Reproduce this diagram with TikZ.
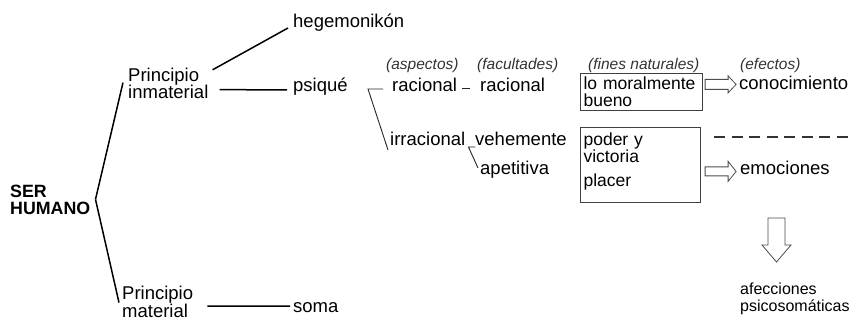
\documentclass[tikz,border=0pt]{standalone}
\usepackage{fontspec}
\setmainfont{Liberation Sans}
\usetikzlibrary{calc}

\tikzset{
  txt/.style={inner sep=0pt, anchor=base west, align=left, font=\fontsize{18.5}{17.6}\selectfont},
  lbl/.style={txt, font=\fontsize{15.5}{16}\selectfont\itshape, text=black!80},
  finbox/.style={draw=black!75, line width=1.1pt, anchor=north west, inner xsep=3pt, align=left, font=\fontsize{17.5}{17}\selectfont},
  tree/.style={line width=1.5pt},
  twig/.style={line width=0.9pt, draw=black!85},
  hollow/.style={draw=black!70, line width=0.8pt, fill=white, line join=miter},
}

\begin{document}
\begin{tikzpicture}[x=1pt, y=-1pt]
\useasboundingbox (0,0) rectangle (866,323);

\node[txt, font=\bfseries\fontsize{17.8}{17}\selectfont] (ser) at (10,214) {SER\\HUMANO};
\node[txt] (pinm) at (128,99)  {Principio\\inmaterial};
\node[txt] (pmat) at (122,317) {Principio\\material};

\node[txt] (hege)   at (293,28)  {hegemonikón};
\node[txt] (psique) at (293,92)  {psiqué};
\node[txt] (soma)   at (293,312) {soma};

\node[lbl] (asp)   at (386,70) {(aspectos)};
\node[lbl] (fac)   at (477,70) {(facultades)};
\node[lbl] (fines) at (588,70) {(fines naturales)};
\node[lbl] (efec)  at (740,70) {(efectos)};

\node[txt] (rac1)  at (392,92)  {racional};
\node[txt] (rac2)  at (480,92)  {racional};
\node[txt] (irrac) at (390,146) {irracional};
\node[txt] (vehe)  at (475,146) {vehemente};
\node[txt] (apet)  at (480,175) {apetitiva};

\node[finbox, text width=116pt, inner ysep=3.5pt] (fin1) at (580,73) {\mbox{lo moralmente}\\bueno};
\node[finbox, text width=114pt, minimum height=75pt] (fin2) at (580,127) {poder y\\victoria\\[7pt]placer\\[-7pt]\mbox{}};

\node[txt] (cono) at (739,90)  {conocimiento};
\node[txt] (emoc) at (740,175) {emociones};
\node[txt, font=\fontsize{16}{17}\selectfont] (afec) at (740,311) {afecciones\\psicosomáticas};

% ser humano
\draw[tree] ($(ser.east)+(5,0)$) -- ($(pinm.west)+(-5,-1)$);
\draw[tree] ($(ser.east)+(5,0)$) -- ($(pmat.west)+(-3,1)$);
\draw[tree] ($(pinm.north east)+(4,2)$) -- ($(hege.base west)+(-5,0)$);
\draw[tree] ($(pinm.east)+(11,6)$) -- ($(psique.base west)+(-6,-2)$);
\draw[tree] ($(pmat.east)+(14,4.5)$) -- ($(soma.base west)+(-3,-6)$);

% psique
\draw[twig] ($(rac1.base west)+(-9,-3)$) -- ($(rac1.base west)+(-24,-3)$) -- ($(irrac.base west)+(-2,4)$);
\draw[twig] ($(rac1.base east)+(5,-4)$) -- ($(rac2.base west)+(-10,-4)$);
\draw[twig] ($(irrac.base east)+(10,1)$) -- ($(irrac.base east)+(3,1)$) -- ($(apet.base west)+(-2,-7)$);

% efectos
\draw[hollow] ($(fin1.east |- cono.west)+(2,1)$) -- ++(0,-5) -- ++(23,0) -- ++(0,-3.5) -- ++(8,8.5)
  -- ++(-8,8.5) -- ++(0,-3.5) -- ++(-23,0) -- cycle;
\draw[hollow] ($(fin2.east |- emoc.west)+(4,3)$) -- ++(0,-4.5) -- ++(23,0) -- ++(0,-5.5) -- ++(8,10)
  -- ++(-8,10) -- ++(0,-5.5) -- ++(-23,0) -- cycle;
\draw[hollow] ($(emoc.base west)+(28,43)$) -- ++(17,0) -- ++(0,27) -- ++(6,0) -- ++(-14.5,17)
  -- ++(-14.5,-17) -- ++(6,0) -- cycle;
\draw[line width=1.5pt, draw=black!80, dash pattern=on 11pt off 6.5pt] ($(fin2.north east)+(13,10)$) -- ++(137,0);

\end{tikzpicture}
\end{document}
